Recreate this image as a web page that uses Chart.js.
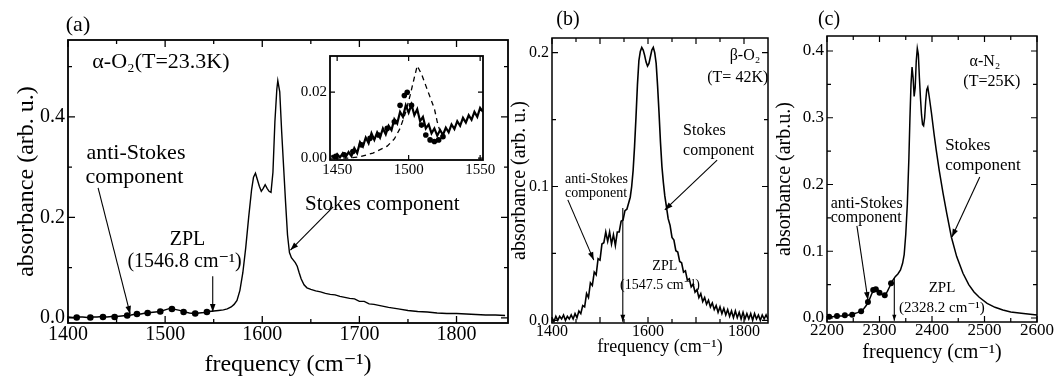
<!DOCTYPE html>
<html><head><meta charset="utf-8">
<script src="https://cdn.jsdelivr.net/npm/chart.js@4.4.1/dist/chart.umd.min.js"></script>
<style>
html,body{margin:0;padding:0;background:#fff;width:1061px;height:379px;overflow:hidden;position:relative;}
canvas{position:absolute;}
</style></head><body>
<canvas id="ca" width="520" height="379" style="left:0;top:0"></canvas>
<canvas id="cb" width="280" height="379" style="left:500px;top:0"></canvas>
<canvas id="cc" width="291" height="379" style="left:770px;top:0"></canvas>
<canvas id="ci" width="225" height="140" style="left:280px;top:40px"></canvas>
<script>
// ---------- Panel (a): alpha-O2, T = 23.3 K ----------
const freqA = [1400,1405,1410,1415,1420,1425,1430,1435,1440,1445,1450,1455,1460,1465,1470,1475,1480,1485,1490,1495,1500,1505,1510,1515,1520,1525,1530,1535,1540,1545,1550,1555,1560,1564,1568,1571,1574,1577,1580,1583,1586,1589,1591,1593,1595,1597,1599,1601,1603,1605,1607,1609,1611,1613,1615,1616,1618,1620,1622,1624,1626,1628,1630,1632,1634,1636,1638,1640,1643,1646,1650,1655,1660,1665,1670,1675,1680,1685,1690,1695,1700,1705,1710,1715,1720,1725,1730,1740,1750,1760,1770,1780,1790,1800,1810,1820,1830,1840,1850];
const absA  = [0.002,0.001,0.002,0.002,0.001,0.002,0.002,0.003,0.002,0.003,0.003,0.004,0.005,0.006,0.008,0.008,0.010,0.011,0.012,0.013,0.016,0.019,0.017,0.015,0.012,0.010,0.009,0.010,0.011,0.013,0.014,0.015,0.016,0.018,0.022,0.027,0.035,0.055,0.090,0.140,0.200,0.255,0.280,0.288,0.275,0.262,0.252,0.258,0.265,0.258,0.252,0.250,0.290,0.390,0.455,0.472,0.450,0.370,0.300,0.230,0.165,0.130,0.120,0.115,0.110,0.103,0.090,0.078,0.066,0.060,0.057,0.054,0.052,0.049,0.047,0.046,0.043,0.041,0.039,0.038,0.033,0.033,0.028,0.027,0.025,0.023,0.021,0.018,0.015,0.013,0.012,0.010,0.009,0.009,0.008,0.007,0.006,0.006,0.005];
const dotAX = [1409,1423,1436,1448,1461,1471,1482,1495,1507,1519,1531,1543];
const dotAY = [0.001,0.001,0.002,0.002,0.005,0.008,0.010,0.013,0.018,0.012,0.009,0.012];
const xTicksA = [1400,1500,1600,1700,1800];
const xMinorA = [1450,1550,1650,1750];
const yTicksA = [0.0,0.2,0.4];
const yMinorA = [0.1,0.3,0.5];

// ---------- Inset of (a) ----------
const freqI = [1446,1448,1450,1452,1454,1456,1458,1460,1462,1464,1466,1468,1470,1472,1474,1476,1478,1480,1482,1484,1486,1488,1490,1492,1494,1496,1498,1500,1502,1504,1506,1508,1510,1512,1514,1516,1518,1520,1522,1524,1526,1528,1530,1532,1534,1536,1538,1540,1542,1544,1546,1548,1550,1552];
const absI  = [0.0008,0.0000,0.0012,0.0002,0.0015,0.0003,0.0018,0.0006,0.0030,0.0015,0.0048,0.0035,0.0062,0.0045,0.0075,0.0055,0.0078,0.0062,0.0090,0.0072,0.0098,0.0085,0.0118,0.0105,0.0140,0.0125,0.0160,0.0138,0.0162,0.0130,0.0148,0.0112,0.0125,0.0090,0.0102,0.0075,0.0090,0.0068,0.0085,0.0070,0.0092,0.0078,0.0102,0.0088,0.0112,0.0098,0.0122,0.0108,0.0130,0.0116,0.0140,0.0125,0.0152,0.0140];
const dotIX = [1449,1455,1461,1467,1473,1479,1485,1490,1494,1497,1499,1502,1509,1512,1515,1518,1521,1524];
const dotIY = [0.0005,0.001,0.002,0.004,0.006,0.007,0.009,0.011,0.016,0.019,0.020,0.016,0.010,0.007,0.0055,0.005,0.0055,0.0065];
const fitIX = [1448,1458,1466,1475,1485,1490,1494,1498,1501,1504,1506,1509,1512,1515,1518,1520,1523,1526];
const fitIY = [0.0,0.0,0.0004,0.0015,0.0036,0.0058,0.0090,0.0140,0.0190,0.0245,0.0280,0.0255,0.0220,0.0185,0.0150,0.0110,0.0065,0.0058];
const xTicksI = [1450,1500,1550];
const yTicksI = [0.00,0.02];

// ---------- Panel (b): beta-O2, T = 42 K ----------
const freqB = [1400,1404,1408,1412,1416,1420,1424,1428,1432,1436,1440,1444,1448,1452,1456,1460,1464,1468,1472,1476,1480,1484,1488,1492,1496,1500,1504,1508,1512,1516,1520,1524,1528,1532,1536,1540,1544,1548,1552,1556,1560,1563,1566,1569,1572,1575,1578,1581,1584,1587,1590,1593,1596,1599,1602,1605,1608,1611,1614,1617,1620,1623,1626,1629,1632,1635,1638,1642,1646,1650,1654,1658,1662,1666,1670,1674,1678,1682,1686,1690,1694,1698,1702,1706,1710,1714,1718,1722,1726,1730,1734,1738,1742,1746,1750,1754,1758,1762,1766,1770,1774,1778,1782,1786,1790,1794,1798,1802,1806,1810,1814,1818,1822,1826,1830,1834,1838,1842,1846,1850];
const absB  = [0.002,-0.001,0.003,0.000,0.003,0.001,0.004,0.000,0.003,0.001,0.004,0.001,0.005,0.002,0.007,0.005,0.011,0.010,0.020,0.017,0.028,0.026,0.036,0.034,0.046,0.045,0.057,0.058,0.066,0.059,0.066,0.057,0.064,0.056,0.066,0.066,0.074,0.075,0.082,0.083,0.088,0.092,0.100,0.112,0.130,0.152,0.176,0.194,0.201,0.204,0.202,0.198,0.193,0.190,0.192,0.197,0.202,0.204,0.200,0.192,0.175,0.155,0.133,0.115,0.103,0.093,0.086,0.076,0.071,0.062,0.060,0.052,0.051,0.044,0.043,0.036,0.037,0.030,0.031,0.025,0.027,0.021,0.023,0.017,0.020,0.014,0.017,0.012,0.015,0.010,0.013,0.008,0.011,0.006,0.010,0.005,0.009,0.004,0.008,0.003,0.007,0.002,0.007,0.002,0.006,0.001,0.006,0.001,0.005,0.001,0.005,0.000,0.005,0.001,0.004,0.000,0.004,0.001,0.004,0.001];
const xTicksB = [1400,1600,1800];
const xMinorB = [1450,1500,1550,1650,1700,1750];
const xMidB = [1500,1700];
const yTicksB = [0.0,0.1,0.2];
const yMinorB = [0.05,0.15];

// ---------- Panel (c): alpha-N2, T = 25 K ----------
const freqC = [2200,2210,2220,2230,2240,2250,2258,2265,2270,2275,2280,2285,2290,2295,2300,2305,2310,2315,2320,2325,2330,2335,2340,2344,2347,2350,2353,2356,2358,2360,2362,2364,2366,2368,2370,2372,2374,2376,2378,2380,2382,2384,2386,2388,2390,2392,2395,2399,2404,2408,2414,2421,2428,2437,2447,2459,2470,2480,2490,2505,2520,2535,2550,2570,2600];
const absC  = [0.002,0.002,0.003,0.003,0.004,0.006,0.008,0.010,0.014,0.019,0.026,0.036,0.043,0.040,0.038,0.035,0.034,0.040,0.048,0.056,0.062,0.066,0.072,0.082,0.095,0.125,0.170,0.240,0.300,0.350,0.376,0.360,0.332,0.345,0.385,0.404,0.395,0.360,0.330,0.305,0.290,0.288,0.300,0.325,0.342,0.346,0.330,0.307,0.275,0.252,0.220,0.187,0.157,0.121,0.092,0.067,0.050,0.039,0.031,0.022,0.016,0.012,0.009,0.007,0.0045];
const dotCX = [2204,2219,2234,2248,2265,2278,2288,2293,2300,2310,2322];
const dotCY = [0.002,0.003,0.004,0.005,0.010,0.024,0.042,0.043,0.038,0.034,0.052];
const xTicksC = [2200,2300,2400,2500,2600];
const xMinorC = [2250,2350,2450,2550];
const yTicksC = [0.0,0.1,0.2,0.3,0.4];
const yMinorC = [0.05,0.15,0.25,0.35];

const FONT = "'Liberation Serif','DejaVu Serif','Times New Roman',serif";
Chart.defaults.font.family = FONT;
Chart.defaults.color = '#000';

function pts(xs, ys){ return xs.map((x,i)=>({x:x, y:ys[i]})); }

const boxPlugin = {
  id: 'boxTicks',
  beforeDraw(chart, args, o) {
    if (!o || !o.fill) return;
    const a = chart.chartArea, ctx = chart.ctx;
    ctx.save(); ctx.fillStyle = o.fill;
    ctx.fillRect(a.left, a.top, a.right - a.left, a.bottom - a.top);
    ctx.restore();
  },
  afterDraw(chart, args, o) {
    if (!o || !o.on) return;
    const ctx = chart.ctx, a = chart.chartArea;
    const sx = chart.scales.x, sy = chart.scales.y;
    ctx.save();
    ctx.strokeStyle = '#000'; ctx.fillStyle = '#000';
    ctx.lineWidth = o.lw;
    ctx.strokeRect(a.left, a.top, a.right - a.left, a.bottom - a.top);
    ctx.lineWidth = o.tw || 1.2;
    ctx.beginPath();
    const xt = (vals, len) => (vals || []).forEach(v => {
      const p = sx.getPixelForValue(v);
      ctx.moveTo(p, a.bottom); ctx.lineTo(p, a.bottom - len);
      ctx.moveTo(p, a.top); ctx.lineTo(p, a.top + len);
    });
    const yt = (vals, len) => (vals || []).forEach(v => {
      const p = sy.getPixelForValue(v);
      ctx.moveTo(a.left, p); ctx.lineTo(a.left + len, p);
      ctx.moveTo(a.right, p); ctx.lineTo(a.right - len, p);
    });
    xt(o.xMajor, o.maj); xt(o.xMinor, o.min); yt(o.yMajor, o.maj); yt(o.yMinor, o.min);
    ctx.stroke();
    ctx.lineWidth = 1.1;
    (o.arrows || []).forEach(r => {
      const x1 = sx.getPixelForValue(r.x1), y1 = sy.getPixelForValue(r.y1);
      const x2 = sx.getPixelForValue(r.x2), y2 = sy.getPixelForValue(r.y2);
      ctx.beginPath(); ctx.moveTo(x1, y1); ctx.lineTo(x2, y2); ctx.stroke();
      const ang = Math.atan2(y2 - y1, x2 - x1), L = r.h || 8, W = (r.h || 8) * 0.35;
      ctx.beginPath();
      ctx.moveTo(x2, y2);
      ctx.lineTo(x2 - L*Math.cos(ang) + W*Math.sin(ang), y2 - L*Math.sin(ang) - W*Math.cos(ang));
      ctx.lineTo(x2 - L*Math.cos(ang) - W*Math.sin(ang), y2 - L*Math.sin(ang) + W*Math.cos(ang));
      ctx.closePath(); ctx.fill();
    });
    ctx.textBaseline = 'middle';
    (o.texts || []).forEach(t => {
      ctx.font = t.size + 'px ' + FONT;
      ctx.textAlign = t.align || 'left';
      ctx.fillText(t.t, sx.getPixelForValue(t.x), sy.getPixelForValue(t.y));
    });
    if (o.letter) {
      ctx.font = o.letter.size + 'px ' + FONT;
      ctx.textAlign = 'center';
      ctx.fillText(o.letter.t, a.left + o.letter.dx, a.top + o.letter.dy);
    }
    ctx.restore();
  }
};

function panel(id, o) {
  return new Chart(document.getElementById(id), {
    type: 'scatter',
    data: { datasets: o.datasets },
    options: {
      responsive: false, animation: false, events: [],
      layout: { padding: o.pad },
      plugins: { legend: {display:false}, tooltip: {enabled:false}, boxTicks: o.box },
      scales: {
        x: { type:'linear', min:o.xr[0], max:o.xr[1], grid:{display:false, drawTicks:false}, border:{display:false},
             afterBuildTicks: s => { s.ticks = o.xl.map(v => ({value:v})); },
             afterFit: s => { s.height = o.xh; },
             ticks: { font:{size:o.tf}, padding:o.xtp, maxRotation:0, minRotation:0, autoSkip:false, callback: v => o.xfmt(v) },
             title: o.xt },
        y: { type:'linear', min:o.yr[0], max:o.yr[1], grid:{display:false, drawTicks:false}, border:{display:false},
             afterBuildTicks: s => { s.ticks = o.yl.map(v => ({value:v})); },
             afterFit: s => { s.width = o.yw; },
             ticks: { font:{size:o.tf}, padding:o.ytp, autoSkip:false, callback: v => o.yfmt(v) },
             title: o.yt }
      }
    },
    plugins: [boxPlugin]
  });
}

const lineDS = (xs, ys, w, extra) => Object.assign({ data: pts(xs, ys), showLine:true, borderColor:'#000', borderWidth:w, pointRadius:0, tension:0 }, extra || {});
const dotDS = (xs, ys, r) => ({ data: pts(xs, ys), showLine:false, pointRadius:r, pointBackgroundColor:'#000', pointBorderColor:'#000', pointBorderWidth:0 });

// Panel (a)
panel('ca', {
  datasets: [ lineDS(freqA, absA, 1.4), dotDS(dotAX, dotAY, 3.3) ],
  pad: {left:0, top:40, right:12, bottom:0},
  xr: [1400, 1853], yr: [-0.01, 0.553], xl: xTicksA, yl: yTicksA,
  xh: 56, yw: 68, tf: 20, xtp: 0, ytp: 3,
  xfmt: v => String(v), yfmt: v => v.toFixed(1),
  xt: {display:true, text:'frequency (cm⁻¹)', font:{size:24}, padding:{top:0, bottom:0}},
  yt: {display:true, text:'absorbance (arb. u.)', font:{size:24}, padding:{top:12, bottom:0}},
  box: { on:true, lw:1.8, tw:1.3, maj:7, min:4, xMajor:xTicksA, xMinor:xMinorA, yMajor:yTicksA, yMinor:yMinorA,
    letter: {t:'(a)', size:22, dx:10, dy:-15},
    texts: [
      {t:'α-O₂(T=23.3K)', x:1425, y:0.509, size:22},
      {t:'anti-Stokes', x:1419, y:0.328, size:22},
      {t:'component', x:1418, y:0.280, size:22},
      {t:'ZPL', x:1523, y:0.155, size:20, align:'center'},
      {t:'(1546.8 cm⁻¹)', x:1520, y:0.111, size:20, align:'center'},
      {t:'Stokes component', x:1644, y:0.225, size:21}
    ],
    arrows: [
      {x1:1431, y1:0.259, x2:1464, y2:0.008},
      {x1:1549, y1:0.083, x2:1549, y2:0.012},
      {x1:1673, y1:0.221, x2:1629, y2:0.135}
    ] }
});

// Inset
panel('ci', {
  datasets: [ lineDS(freqI, absI, 2.2), dotDS(dotIX, dotIY, 2.8), lineDS(fitIX, fitIY, 1.3, {borderDash:[5,4]}) ],
  pad: {left:0, top:16, right:22, bottom:0},
  xr: [1445, 1552], yr: [-0.0006, 0.031], xl: xTicksI, yl: yTicksI,
  xh: 20, yw: 50, tf: 15, xtp: 1, ytp: 3,
  xfmt: v => String(v), yfmt: v => v.toFixed(2),
  xt: {display:false}, yt: {display:false},
  box: { on:true, fill:'#fff', lw:1.8, tw:1.2, maj:5, min:3, xMajor:xTicksI, yMajor:yTicksI }
});

// Panel (b)
panel('cb', {
  datasets: [ lineDS(freqB, absB, 1.6) ],
  pad: {left:0, top:38, right:12, bottom:0},
  xr: [1400, 1850], yr: [-0.002, 0.211], xl: xTicksB, yl: yTicksB,
  xh: 56, yw: 52, tf: 16, xtp: -1, ytp: 3,
  xfmt: v => String(v), yfmt: v => v.toFixed(1),
  xt: {display:true, text:'frequency (cm⁻¹)', font:{size:18}, padding:{top:0, bottom:21}},
  yt: {display:true, text:'absorbance (arb. u.)', font:{size:20}, padding:{top:8, bottom:0}},
  box: { on:true, lw:1.5, tw:1.2, maj:6, min:4, xMajor:xTicksB.concat(xMidB), xMinor:xMinorB.filter(v => xMidB.indexOf(v) < 0), yMajor:yTicksB, yMinor:yMinorB,
    letter: {t:'(b)', size:20, dx:16, dy:-18},
    texts: [
      {t:'β-O₂', x:1802, y:0.1976, size:16, align:'center'},
      {t:'(T= 42K)', x:1787, y:0.181, size:16, align:'center'},
      {t:'Stokes', x:1673, y:0.142, size:16},
      {t:'component', x:1673, y:0.127, size:16},
      {t:'anti-Stokes', x:1427, y:0.1056, size:14},
      {t:'component', x:1427, y:0.095, size:14},
      {t:'ZPL', x:1635, y:0.040, size:14, align:'center'},
      {t:'(1547.5 cm⁻¹)', x:1625, y:0.0264, size:14, align:'center'}
    ],
    arrows: [
      {x1:1744, y1:0.1198, x2:1635, y2:0.0825},
      {x1:1433, y1:0.090, x2:1487, y2:0.045},
      {x1:1547.5, y1:0.084, x2:1547.5, y2:-0.001, h:7}
    ] }
});

// Panel (c)
panel('cc', {
  datasets: [ lineDS(freqC, absC, 1.5), dotDS(dotCX, dotCY, 3.0) ],
  pad: {left:0, top:36, right:24, bottom:0},
  xr: [2200, 2600], yr: [-0.006, 0.4225], xl: xTicksC, yl: yTicksC,
  xh: 57, yw: 57, tf: 17, xtp: -2, ytp: 3,
  xfmt: v => String(v), yfmt: v => v.toFixed(1),
  xt: {display:true, text:'frequency (cm⁻¹)', font:{size:20}, padding:{top:0, bottom:14}},
  yt: {display:true, text:'absorbance (arb.u.)', font:{size:20}, padding:{top:3, bottom:0}},
  box: { on:true, lw:1.5, tw:1.2, maj:6, min:4, xMajor:xTicksC, xMinor:xMinorC, yMajor:yTicksC, yMinor:yMinorC,
    letter: {t:'(c)', size:20, dx:2, dy:-16},
    texts: [
      {t:'α-N₂', x:2501, y:0.3836, size:16, align:'center'},
      {t:'(T=25K)', x:2514, y:0.3536, size:16, align:'center'},
      {t:'Stokes', x:2425, y:0.259, size:17},
      {t:'component', x:2425, y:0.229, size:17},
      {t:'anti-Stokes', x:2207, y:0.1708, size:16},
      {t:'component', x:2207, y:0.1498, size:16},
      {t:'ZPL', x:2419, y:0.045, size:15, align:'center'},
      {t:'(2328.2 cm⁻¹)', x:2419, y:0.015, size:15, align:'center'}
    ],
    arrows: [
      {x1:2491, y1:0.2113, x2:2438, y2:0.1214},
      {x1:2257, y1:0.138, x2:2278, y2:0.027},
      {x1:2328.2, y1:0.06, x2:2328.2, y2:-0.004, h:6}
    ] }
});
</script>
</body></html>
